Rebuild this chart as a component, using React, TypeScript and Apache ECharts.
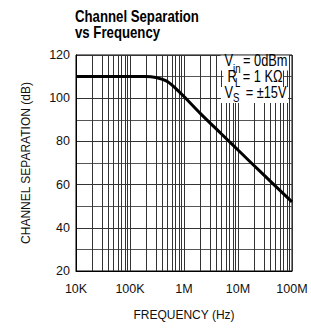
import React, { useEffect, useRef } from "react";
import * as echarts from "echarts";

const freqs = [1e4, 1e5, 2e5, 3e5, 4e5, 5e5, 7e5, 1e6, 2e6, 5e6, 1e7, 3e7, 1e8];
const separation = [110, 110, 110, 109.6, 108.7, 107.6, 104.6, 100.8, 93, 83.3, 76, 64.5, 52];
const yTicks = [20, 40, 60, 80, 100, 120];
const xTickValues = [1e4, 1e5, 1e6, 1e7, 1e8];
const xTickLabels = ["10K", "100K", "1M", "10M", "100M"];
const minorFreqs = [
  2e4, 3e4, 4e4, 5e4, 6e4, 7e4, 8e4, 9e4,
  2e5, 3e5, 4e5, 5e5, 6e5, 7e5, 8e5, 9e5,
  2e6, 3e6, 4e6, 5e6, 6e6, 7e6, 8e6, 9e6,
  2e7, 3e7, 4e7, 5e7, 6e7, 7e7, 8e7, 9e7,
];
const titleLines = ["Channel Separation", "vs Frequency"];

const SANS = "'Liberation Sans', Arial, Helvetica, sans-serif";
const GRID = "#333";
const NARROW_SCALE = 0.8;

export default function App() {
  const ref = useRef<HTMLDivElement>(null);
  useEffect(() => {
    if (!ref.current) return;
    const chart = echarts.init(ref.current, undefined, { renderer: "svg" });
    const txt = (x: number, y: number, text: string, size: number, align = "left", weight = "normal") => ({
      type: "text",
      x,
      y,
      scaleX: NARROW_SCALE,
      silent: true,
      z: 20,
      style: {
        text,
        fontSize: size,
        fontWeight: weight,
        fontFamily: SANS,
        fill: "#000",
        align,
        verticalAlign: "middle",
      },
    });
    chart.setOption({
      animation: false,
      backgroundColor: "#fff",
      grid: { left: 76, right: 19, top: 55, bottom: 58, show: true, borderColor: "#000", borderWidth: 1 },
      xAxis: {
        type: "log",
        logBase: 10,
        min: 1e4,
        max: 1e8,
        name: "FREQUENCY (Hz)",
        nameLocation: "middle",
        nameGap: 38,
        nameTextStyle: { fontSize: 12, fontFamily: SANS, color: "#111" },
        axisLine: { lineStyle: { color: "#000" } },
        axisTick: { show: false },
        axisLabel: {
          fontSize: 12.5,
          fontFamily: SANS,
          color: "#111",
          margin: 11,
          formatter: (v: number) => {
            const i = xTickValues.findIndex((t) => Math.abs(Math.log10(t) - Math.log10(v)) < 1e-6);
            return i >= 0 ? xTickLabels[i] : "";
          },
        },
        splitLine: { show: true, lineStyle: { color: GRID, width: 1 } },
      },
      yAxis: {
        type: "value",
        min: 20,
        max: 120,
        interval: 20,
        name: "CHANNEL SEPARATION (dB)",
        nameLocation: "middle",
        nameGap: 44,
        nameRotate: 90,
        nameTextStyle: { fontSize: 12, fontFamily: SANS, color: "#111" },
        axisLine: { show: true, lineStyle: { color: "#000" } },
        axisTick: { show: false },
        axisLabel: {
          fontSize: 12.5,
          fontFamily: SANS,
          color: "#111",
          margin: 6,
          formatter: (v: number) => (yTicks.includes(v) ? String(v) : ""),
        },
        splitLine: { show: true, lineStyle: { color: GRID, width: 1 } },
        minorTick: { show: false, splitNumber: 2 },
        minorSplitLine: { show: true, lineStyle: { color: "#555", width: 1 } },
      },
      series: [
        {
          type: "line",
          data: freqs.map((f, i) => [f, separation[i]]),
          smooth: 0.3,
          showSymbol: false,
          symbol: "none",
          lineStyle: { color: "#000", width: 3 },
          z: 5,
          markLine: {
            silent: true,
            symbol: ["none", "none"],
            label: { show: false },
            lineStyle: { color: GRID, width: 1, type: "solid" },
            data: minorFreqs.map((f) => ({ xAxis: f })),
            z: 1,
          },
        },
      ],
      graphic: [
        txt(75, 15.5, titleLines[0], 16.5, "left", "bold"),
        txt(75, 31.5, titleLines[1], 16.5, "left", "bold"),
        { type: "rect", shape: { x: 220.5, y: 55.5, width: 68.5, height: 15 }, style: { fill: "#fff" }, silent: true, z: 10 },
        { type: "rect", shape: { x: 223.5, y: 70, width: 59.5, height: 17 }, style: { fill: "#fff" }, silent: true, z: 10 },
        { type: "rect", shape: { x: 221, y: 87, width: 67, height: 16 }, style: { fill: "#fff" }, silent: true, z: 10 },
        txt(224.5, 60, "V", 16),
        txt(233, 69, "in", 12),
        txt(287.5, 60, "= 0dBm", 16, "right"),
        txt(227.5, 76.5, "R", 16),
        txt(235, 83, "L", 12),
        txt(282.5, 76.5, "= 1 KΩ", 16, "right"),
        txt(224.5, 92.5, "V", 16),
        txt(233, 98, "S", 12),
        txt(286.5, 92.5, "= ±15V", 16, "right"),
      ],
    });
    return () => chart.dispose();
  }, []);
  return <div ref={ref} style={{ width: 311, height: 329, position: "absolute", left: 0, top: 0 }} />;
}
